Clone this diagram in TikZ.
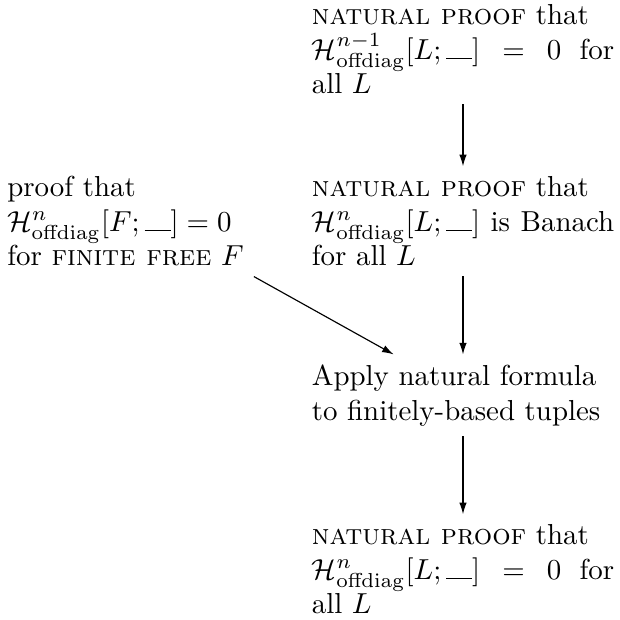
\documentclass[tikz,border=0pt]{standalone}
\usepackage{amsmath,amssymb}
\usetikzlibrary{arrows.meta,positioning,calc}
\tikzset{
  stmt/.style={text width=104.6pt,align=justify},
  lstmt/.style={align=left},
  arr/.style={-{Latex[length=4pt,width=2.6pt]}},
}
\newcommand{\Hoff}[2]{\mathcal{H}^{#1}_{\mathrm{offdiag}}[#2;\rule{0.9em}{0.4pt}]}

\begin{document}
\begin{tikzpicture}
\node[stmt] (top) {\textsc{natural proof} that\\ $\Hoff{n-1}{L} = 0$ for\linebreak all $L$};
\node[stmt,below=21.4pt of top] (banach) {\textsc{natural proof} that\\ $\Hoff{n}{L}$ is Banach for all $L$};
\node[lstmt,left=16.5pt of banach] (fin) {proof that\\ $\Hoff{n}{F} = 0$\\ for \textsc{finite free} $F$};
\node[stmt,below=27pt of banach] (apply) {Apply natural formula\\ to finitely-based tuples};
\node[stmt,below=27pt of apply] (bot) {\textsc{natural proof} that\\ $\Hoff{n}{L} = 0$ for\linebreak all $L$};
\draw[arr] (top) -- (banach);
\draw[arr] (banach) -- (apply);
\draw[arr] (apply) -- (bot);
\draw[arr] (fin.south east) -- ([xshift=-24pt]apply.north);
\pgfresetboundingbox
\useasboundingbox ($(fin.west |- top.north)+(1pt,-2pt)$) rectangle ($(bot.south east)+(-1.6pt,1.5pt)$);
\end{tikzpicture}
\end{document}
